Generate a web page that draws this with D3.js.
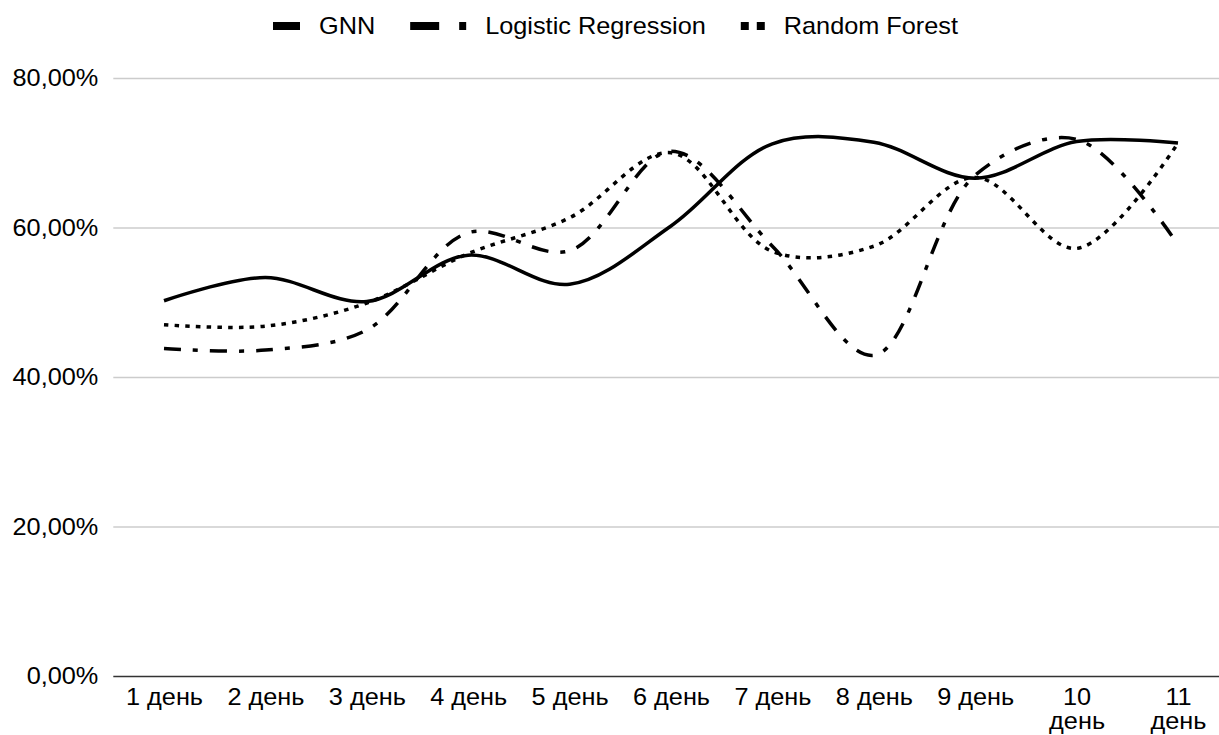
<!DOCTYPE html>
<html>
<head>
<meta charset="utf-8">
<script src="https://cdn.jsdelivr.net/npm/d3@7/dist/d3.min.js"></script>
<style>
  html, body { margin: 0; padding: 0; background: #fff; }
  svg { display: block; }
  text { font-family: "Liberation Sans", Arial, sans-serif; fill: #000; }
</style>
</head>
<body>
<svg id="chart" width="1219" height="735"></svg>
<script>
// Accuracy per day, in percent
const days = ["1 день", "2 день", "3 день", "4 день", "5 день", "6 день",
              "7 день", "8 день", "9 день", "10 день", "11 день"];
const gnn        = [50.2, 53.3, 50.1, 56.3, 52.4, 60.2, 71.2, 71.4, 66.6, 71.5, 71.3];
const logReg     = [43.8, 43.6, 46.3, 59.3, 56.9, 70.2, 57.5, 42.9, 67.0, 71.8, 57.7];
const randForest = [47.0, 46.8, 49.9, 56.5, 61.3, 70.0, 56.8, 57.5, 66.7, 57.2, 71.3];
const yTicks = [0, 20, 40, 60, 80];
const seriesNames = ["GNN", "Logistic Regression", "Random Forest"];

const FONT = 23;
const SX = 1.1; // horizontal text stretch

const svg = d3.select("#chart");

const x = d3.scalePoint().domain(days).range([113.3, 1228.7]).padding(0.5);
const y = d3.scaleLinear().domain([0, 80]).range([676, 78]);
const fmt = v => v.toFixed(2).replace(".", ",") + "%";

// gridlines + y labels
const yAxis = svg.append("g")
  .attr("transform", "translate(113.3,0)")
  .call(d3.axisLeft(y).tickValues(yTicks).tickFormat(fmt)
        .tickSize(-(1228.7 - 113.3)).tickPadding(0));
yAxis.select(".domain").remove();
yAxis.selectAll(".tick line")
  .attr("stroke", d => d === 0 ? "#333" : "#cccccc")
  .attr("stroke-width", d => d === 0 ? 1.6 : 1.5);
yAxis.selectAll(".tick text")
  .attr("x", -15 / SX)
  .attr("dy", "0.34em")
  .attr("transform", `scale(${SX},1)`)
  .style("font-size", FONT + "px")
  .style("font-family", "'Liberation Sans', Arial, sans-serif")
  .attr("fill", "#000");

// x labels (wrapped when wider than the slot)
const xAxis = svg.append("g")
  .attr("transform", `translate(0,${y(0)})`)
  .call(d3.axisBottom(x).tickSize(0).tickPadding(0));
xAxis.select(".domain").remove();
xAxis.selectAll(".tick text").each(function(d) {
  const t = d3.select(this);
  t.text(null).attr("y", 0).attr("dy", null)
   .attr("transform", `scale(${SX},1)`)
   .style("font-size", FONT + "px")
   .style("font-family", "'Liberation Sans', Arial, sans-serif")
   .attr("fill", "#000");
  const probe = t.append("tspan").text(d);
  const w = this.getComputedTextLength() * SX;
  probe.remove();
  const lines = w > x.step() * 0.8 ? d.split(" ") : [d];
  lines.forEach((ln, i) => {
    t.append("tspan").attr("x", 0).attr("y", 29 + i * 24).text(ln);
  });
});

// series lines
const curve = d3.curveCatmullRom.alpha(0.5);
const line = d3.line().x((d, i) => x(days[i])).y(d => y(d)).curve(curve);
const styles = [
  { data: gnn,        dash: null },
  { data: logReg,     dash: "17,12,5,12" },
  { data: randForest, dash: "4.5,6.2" }
];
svg.append("g").selectAll("path")
  .data(styles)
  .join("path")
  .attr("d", s => line(s.data))
  .attr("fill", "none")
  .attr("stroke", "#000")
  .attr("stroke-width", 3.5)
  .attr("stroke-dasharray", s => s.dash);

// legend
const legendSwatches = [
  [[0, 27]],
  [[0, 29], [49, 7]],
  [[0, 8], [16, 8]]
];
const legend = svg.append("g");
let lx = 273;
seriesNames.forEach((name, i) => {
  const g = legend.append("g");
  const parts = legendSwatches[i];
  parts.forEach(([px, pw]) => {
    g.append("rect").attr("x", lx + px).attr("y", 22).attr("width", pw).attr("height", 8).attr("fill", "#000");
  });
  const swW = d3.max(parts, p => p[0] + p[1]);
  lx += swW + 19;
  const t = g.append("text")
    .attr("x", 0).attr("y", 0)
    .attr("transform", `translate(${lx},34) scale(${SX},1)`)
    .style("font-size", FONT + "px")
    .text(name);
  lx += t.node().getComputedTextLength() * SX + 35;
});
</script>
</body>
</html>
